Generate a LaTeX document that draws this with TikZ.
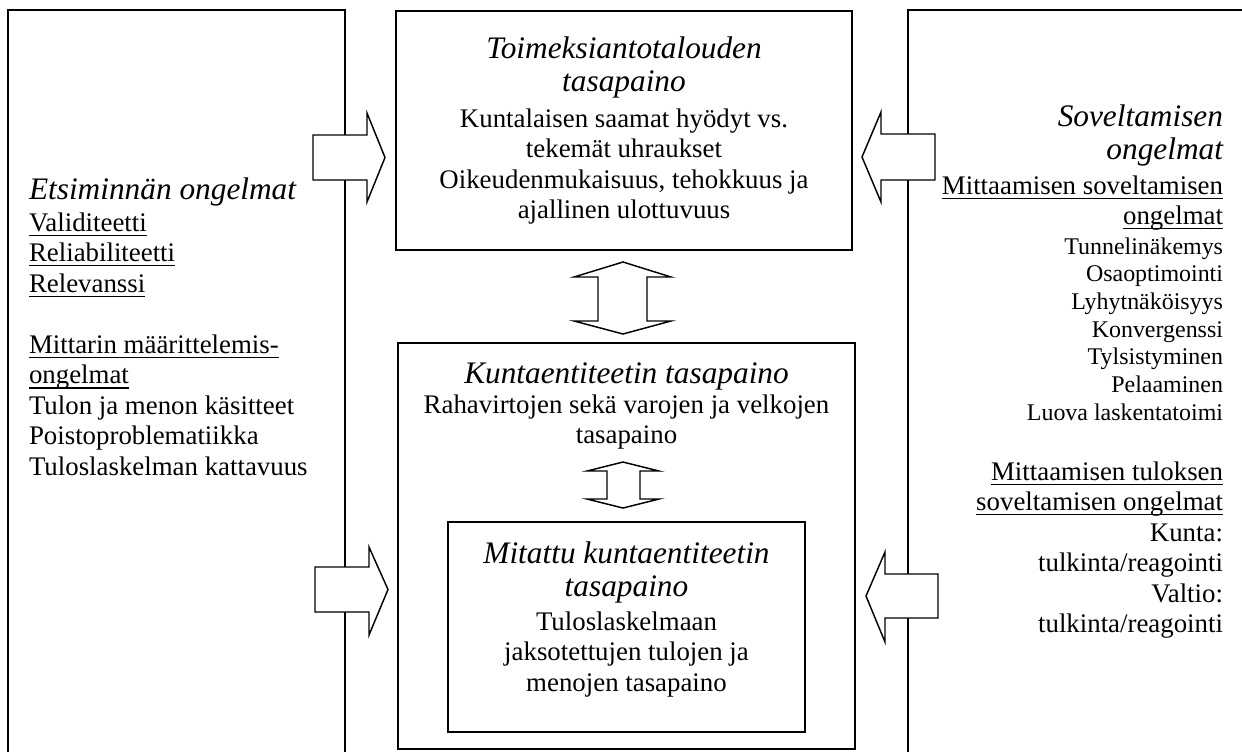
\documentclass[tikz,border=0pt]{standalone}
\usepackage{fontspec}
\setmainfont{Liberation Serif}
% underline at a fixed depth below the baseline
\newcommand\ulx[1]{\setbox0\hbox{#1}\rlap{\rule[-2.2pt]{\wd0}{0.55pt}}\box0}
\newcommand\bodyfont{\fontsize{12}{13.65}\selectfont}
\newcommand\smallbodyfont{\fontsize{10.7}{12.4}\selectfont}
\newcommand\headfont{\fontsize{14}{15.1}\selectfont\itshape}
\begin{document}
\begin{tikzpicture}[x=0.447pt,y=-0.447pt,
  frame/.style={draw, line width=0.85pt},
  blockarrow/.style={draw, fill=white, line width=0.65pt, line join=miter},
  txt/.style={inner sep=0pt, outer sep=0pt},
  body/.style={txt, font=\bodyfont},
  smallbody/.style={txt, font=\smallbodyfont},
  head/.style={txt, font=\headfont},
]
\useasboundingbox (0,0) rectangle (1242,751);
\clip (0,0) rectangle (1242,751);

% side panels (open at the page edges)
\draw[frame] (8,760) -- (8,10) -- (345,10) -- (345,760);
\draw[frame] (908,760) -- (908,10) -- (1250,10);

% central boxes
\draw[frame] (396,11) rectangle (852,250);
\draw[frame] (398,343) rectangle (855,749);
\draw[frame] (448,522) rectangle (805,732);

% block arrows from the side panels
\draw[blockarrow] (313,135) -- (367,135) -- (367,113) -- (385,157.5) -- (367,202) -- (367,180) -- (313,180) -- cycle;
\draw[blockarrow] (315,567) -- (369,567) -- (369,547) -- (388,589.5) -- (369,635) -- (369,612) -- (315,612) -- cycle;
\draw[blockarrow] (935,134) -- (881,134) -- (881,112) -- (862,157) -- (881,202) -- (881,180) -- (935,180) -- cycle;
\draw[blockarrow] (938,574) -- (885,574) -- (885,552) -- (866,596) -- (885,642) -- (885,618) -- (938,618) -- cycle;

% vertical double arrows
\draw[blockarrow] (623,262) -- (671,277) -- (647,277) -- (647,321) -- (671,321) -- (623,334)
  -- (574,321) -- (598,321) -- (598,277) -- (574,277) -- cycle;
\draw[blockarrow] (623,462) -- (659,471) -- (640,471) -- (640,499) -- (659,499) -- (623,508)
  -- (587,499) -- (607,499) -- (607,471) -- (587,471) -- cycle;

% left panel text
\node[head, anchor=base west] (lefthead) at (29,199) {Etsiminnän ongelmat};
\node[body, anchor=base west] (leftlist) at (29,231) {\begin{tabular}[t]{@{}l@{}}
\ulx{Validiteetti}\\
\ulx{Reliabiliteetti}\\
\ulx{Relevanssi}\\
\\
\ulx{Mittarin määrittelemis-}\\
\ulx{ongelmat}\\
Tulon ja menon käsitteet\\
Poistoproblematiikka\\
Tuloslaskelman kattavuus
\end{tabular}};

% top box text
\node[head, anchor=base] (tophead) at (624,58) {\begin{tabular}[t]{@{}c@{}}
Toimeksiantotalouden\\ tasapaino\end{tabular}};
\node[body, anchor=base] (topbody) at (624,127) {\begin{tabular}[t]{@{}c@{}}
Kuntalaisen saamat hyödyt vs.\\
tekemät uhraukset\\
Oikeudenmukaisuus, tehokkuus ja\\
ajallinen ulottuvuus
\end{tabular}};

% middle box text
\node[head, anchor=base] (midhead) at (626.5,383) {Kuntaentiteetin tasapaino};
\node[body, anchor=base] (midbody) at (626.5,413) {\begin{tabular}[t]{@{}c@{}}
Rahavirtojen sekä varojen ja velkojen\\
tasapaino
\end{tabular}};

% inner box text
\node[head, anchor=base] (innerhead) at (626.5,563) {\begin{tabular}[t]{@{}c@{}}
Mitattu kuntaentiteetin\\ tasapaino\end{tabular}};
\node[body, anchor=base] (innerbody) at (626.5,630) {\begin{tabular}[t]{@{}c@{}}
Tuloslaskelmaan\\
jaksotettujen tulojen ja\\
menojen tasapaino
\end{tabular}};

% right panel text
\node[head, anchor=base east] (righthead) at (1223,126) {\begin{tabular}[t]{@{}r@{}}
Soveltamisen\\ ongelmat\end{tabular}};
\node[body, anchor=base east] (rightsub) at (1223,194) {\begin{tabular}[t]{@{}r@{}}
\ulx{Mittaamisen soveltamisen}\\
\ulx{ongelmat}
\end{tabular}};
\node[smallbody, anchor=base east] (rightlist) at (1223,254) {\begin{tabular}[t]{@{}r@{}}
Tunnelinäkemys\\
Osaoptimointi\\
Lyhytnäköisyys\\
Konvergenssi\\
Tylsistyminen\\
Pelaaminen\\
Luova laskentatoimi
\end{tabular}};
\node[body, anchor=base east] (rightlow) at (1223,480) {\begin{tabular}[t]{@{}r@{}}
\ulx{Mittaamisen tuloksen}\\
\ulx{soveltamisen ongelmat}\\
Kunta:\\
tulkinta/reagointi\\
Valtio:\\
tulkinta/reagointi
\end{tabular}};
\end{tikzpicture}
\end{document}
